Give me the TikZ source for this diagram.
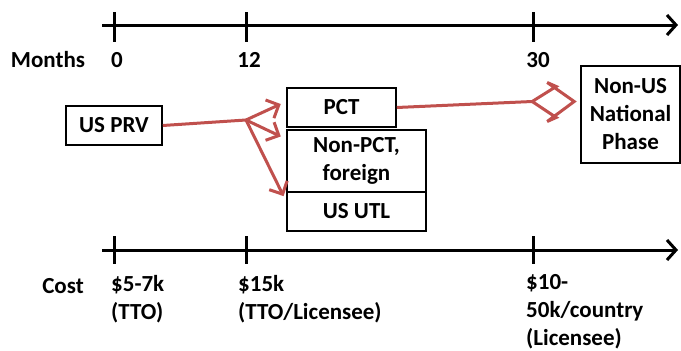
\documentclass[tikz,border=0pt]{standalone}
\usepackage{fontspec}
\setmainfont{Carlito}
\usetikzlibrary{arrows.meta,calc}
\definecolor{flowred}{RGB}{192,80,77}
\begin{document}
\begin{tikzpicture}[x=1pt,y=-1pt,
  every node/.style={font=\fontsize{23}{28}\selectfont\bfseries, inner sep=0pt},
  axis/.style={line width=3pt, -{Straight Barb[length=9pt,width=20pt,line width=3pt]}},
  tick/.style={line width=3pt},
  stagebox/.style={draw, line width=1.6pt, align=center},
  flow/.style={draw=flowred, line width=3pt},
  flowarrow/.style={flow, -{Straight Barb[length=10pt,width=20pt]}, shorten >=6pt},
  label/.style={anchor=north west, align=left},
]
\useasboundingbox (0,0) rectangle (681,351);

% time axis
\coordinate (ta0) at (102,25);
\coordinate (ta1) at (678,25);
\draw[axis] (ta0) -- (ta1);
\foreach \x in {114,246,533} \draw[tick] (\x,12) -- (\x,42);
\node (months) at (48,60) {Months};
\node (m0) at (117,60) {0};
\node (m12) at (249,60) {12};
\node (m30) at (538,60) {30};

% cost axis
\coordinate (ca0) at (102,250);
\coordinate (ca1) at (678,250);
\draw[axis] (ca0) -- (ca1);
\foreach \x in {114,246,533} \draw[tick] (\x,236) -- (\x,264);
\node (cost) at (63,286) {Cost};
\node[label] (c0) at (111,275) {\$5-7k\\(TTO)};
\node[label] (c12) at (238,275) {\$15k\\(TTO/Licensee)};
\node[label] (c30) at (526,274) {\$10-\\50k/country\\(Licensee)};

% filing stages
\node[stagebox, minimum width=96pt, minimum height=39pt] (prv) at (114,125.5) {US PRV};
\node[stagebox, minimum width=109pt, minimum height=39pt] (pct) at (341.5,107.5) {PCT};
\node[stagebox, minimum width=139pt, minimum height=62pt] (npct) at (356.5,161) {Non-PCT,\\foreign};
\node[stagebox, minimum width=139pt, minimum height=39pt] (utl) at (356.5,211.5) {US UTL};
\node[stagebox, minimum width=99pt, minimum height=97pt] (nus) at (630.5,114.5) {Non-US\\National\\Phase};

% branching connectors
\coordinate (fork) at (246,120);
\draw[flow] (prv.east) -- (fork);
\draw[flowarrow] (fork) -- ($(pct.west)+(0,-6)$);
\draw[flowarrow] (fork) -- ($(npct.west)+(0,-22)$);
\draw[flowarrow] (fork) -- ($(utl.west)+(0,-10)$);

% PCT to national phase: line ending in an outlined double-barb head
\coordinate (tip) at ($(nus.west)+(-6,-13)$);
\coordinate (back) at ($(tip)+(-42,0)$);
\draw[flow] (pct.east) -- (back);
\draw[flow, line join=miter, miter limit=4]
  (back) -- ($(tip)+(-18,-15)$) -- ($(tip)+(-27,-19)$) -- (tip)
         -- ($(tip)+(-27,20)$) -- ($(tip)+(-18,16)$) -- cycle;
\end{tikzpicture}
\end{document}
